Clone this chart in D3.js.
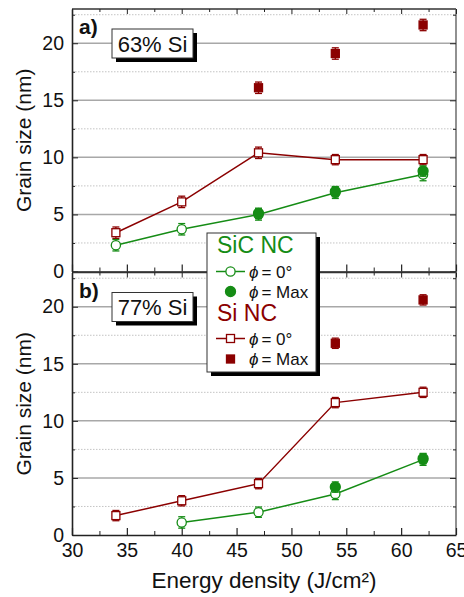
<!DOCTYPE html>
<html>
<head>
<meta charset="utf-8">
<script src="https://cdn.jsdelivr.net/npm/d3@7"></script>
<style>
  body { margin: 0; background: #fff; }
  svg { font-family: "Liberation Sans", Arial, sans-serif; }
  .axis path, .axis line { stroke: #222; }
  .axis text { font-size: 19.5px; fill: #111; font-family: "Liberation Sans", Arial, sans-serif; }
</style>
</head>
<body>
<script>
const width = 464;
const height = 597;

// data
const energy = [34, 40, 47, 54, 62];

const siZeroA = [3.4, 6.1, 10.4, 9.8, 9.8];
const siZeroErrA = [0.5, 0.5, 0.5, 0.45, 0.45];
const siMaxA = [null, null, 16.1, 19.1, 21.6];
const siMaxErrA = [null, null, 0.5, 0.5, 0.5];
const sicZeroA = [2.3, 3.7, 5.0, 6.9, 8.5];
const sicZeroErrA = [0.5, 0.5, 0.5, 0.5, 0.55];
const sicMaxA = [null, null, 5.1, 7.0, 8.8];
const sicMaxErrA = [null, null, 0.45, 0.45, 0.45];

const siZeroB = [1.7, 3.0, 4.5, 11.6, 12.5];
const siZeroErrB = [0.45, 0.45, 0.45, 0.45, 0.45];
const siMaxB = [null, null, null, 16.8, 20.6];
const siMaxErrB = [null, null, null, 0.45, 0.45];
const sicZeroB = [null, 1.1, 2.0, 3.6, 6.6];
const sicZeroErrB = [null, 0.5, 0.45, 0.5, 0.5];
const sicMaxB = [null, null, null, 4.2, 6.7];
const sicMaxErrB = [null, null, null, 0.45, 0.45];

const xMajorTicks = [30, 35, 40, 45, 50, 55, 60, 65];
const yMajorTicks = [0, 5, 10, 15, 20];
const yMinorTicks = [2.5, 7.5, 12.5, 17.5, 22.5];

const green = "#158c15";
const red = "#8b0000";

const margin = { left: 72, right: 8 };

const svg = d3.select("body").append("svg")
    .attr("width", width)
    .attr("height", height);

const xScale = d3.scaleLinear()
    .domain([30, 65])
    .range([margin.left, width - margin.right]);

const panels = [
    { label: "a)", box: "63% Si", top: 9, bottom: 271.5,
      series: [
        { y: siZeroA, err: siZeroErrA, color: red, shape: "square", open: true, line: true },
        { y: sicZeroA, err: sicZeroErrA, color: green, shape: "circle", open: true, line: true },
        { y: sicMaxA, err: sicMaxErrA, color: green, shape: "circle", open: false, line: false },
        { y: siMaxA, err: siMaxErrA, color: red, shape: "square", open: false, line: false }
      ] },
    { label: "b)", box: "77% Si", top: 272.5, bottom: 535,
      series: [
        { y: siZeroB, err: siZeroErrB, color: red, shape: "square", open: true, line: true },
        { y: sicZeroB, err: sicZeroErrB, color: green, shape: "circle", open: true, line: true },
        { y: sicMaxB, err: sicMaxErrB, color: green, shape: "circle", open: false, line: false },
        { y: siMaxB, err: siMaxErrB, color: red, shape: "square", open: false, line: false }
      ] }
];

function drawMarker(g, shape, open, color, cx, cy) {
    if (shape === "circle") {
        g.append("circle")
            .attr("cx", cx).attr("cy", cy).attr("r", open ? 4.6 : 5)
            .attr("fill", open ? "#fff" : color)
            .attr("stroke", color)
            .attr("stroke-width", 1.3);
    } else {
        const s = 8;
        g.append("rect")
            .attr("x", cx - s / 2).attr("y", cy - s / 2)
            .attr("width", s).attr("height", s)
            .attr("fill", open ? "#fff" : color)
            .attr("stroke", color)
            .attr("stroke-width", 1.3);
    }
}

panels.forEach((p, pi) => {
    const yScale = d3.scaleLinear()
        .domain([0, 23])
        .range([p.bottom, p.top]);

    const g = svg.append("g");

    // grid
    g.selectAll(".gmaj").data(yMajorTicks.slice(1)).enter()
        .append("line")
        .attr("x1", margin.left).attr("x2", width - margin.right)
        .attr("y1", d => yScale(d)).attr("y2", d => yScale(d))
        .attr("stroke", "#a8a8a8").attr("stroke-width", 1.5);
    g.selectAll(".gmin").data(yMinorTicks).enter()
        .append("line")
        .attr("x1", margin.left).attr("x2", width - margin.right)
        .attr("y1", d => yScale(d)).attr("y2", d => yScale(d))
        .attr("stroke", "#c4c4c4").attr("stroke-width", 1)
        .attr("stroke-dasharray", "1.5,1.5");

    // frame: top and right
    g.append("line")
        .attr("x1", margin.left).attr("x2", width - margin.right)
        .attr("y1", p.top).attr("y2", p.top)
        .attr("stroke", "#333").attr("stroke-width", 1.3);
    g.append("line")
        .attr("x1", width - margin.right).attr("x2", width - margin.right)
        .attr("y1", p.top).attr("y2", p.bottom)
        .attr("stroke", "#555").attr("stroke-width", 1.3);

    // x axis (ticks inside)
    const xAx = g.append("g")
        .attr("class", "axis")
        .attr("transform", `translate(0,${p.bottom})`)
        .call(d3.axisBottom(xScale).tickValues(xMajorTicks)
            .tickSizeInner(-7).tickSizeOuter(0).tickPadding(8)
            .tickFormat(pi === 1 ? d3.format("d") : () => ""));
    xAx.select(".domain").attr("stroke-width", 1.6);
    xAx.selectAll("line").attr("stroke-width", 1.2);
    g.append("g")
        .attr("class", "axis")
        .attr("transform", `translate(0,${p.bottom})`)
        .call(d3.axisBottom(xScale).tickValues(xMajorTicks.map(d => d + 2.5).filter(d => d < 65))
            .tickSizeInner(-4).tickSizeOuter(0).tickFormat(() => ""))
        .select(".domain").remove();

    // top mirror ticks
    g.append("g")
        .attr("class", "axis")
        .attr("transform", `translate(0,${p.top})`)
        .call(d3.axisTop(xScale).tickValues(xMajorTicks)
            .tickSizeInner(-5).tickSizeOuter(0).tickFormat(() => ""))
        .select(".domain").remove();
    g.append("g")
        .attr("class", "axis")
        .attr("transform", `translate(0,${p.top})`)
        .call(d3.axisTop(xScale).tickValues(xMajorTicks.map(d => d + 2.5).filter(d => d < 65))
            .tickSizeInner(-3).tickSizeOuter(0).tickFormat(() => ""))
        .select(".domain").remove();

    // y axis
    const yAx = g.append("g")
        .attr("class", "axis")
        .attr("transform", `translate(${margin.left},0)`)
        .call(d3.axisLeft(yScale).tickValues(yMajorTicks)
            .tickSizeInner(-6).tickSizeOuter(0).tickPadding(8));
    yAx.select(".domain").attr("stroke-width", 1.6);
    g.append("g")
        .attr("class", "axis")
        .attr("transform", `translate(${margin.left},0)`)
        .call(d3.axisLeft(yScale).tickValues(yMinorTicks)
            .tickSizeInner(-3).tickSizeOuter(0).tickFormat(() => ""))
        .select(".domain").remove();

    // right mirror ticks
    g.append("g")
        .attr("class", "axis")
        .attr("transform", `translate(${width - margin.right},0)`)
        .call(d3.axisRight(yScale).tickValues(yMajorTicks)
            .tickSizeInner(-6).tickSizeOuter(0).tickFormat(() => ""))
        .select(".domain").remove();
    g.append("g")
        .attr("class", "axis")
        .attr("transform", `translate(${width - margin.right},0)`)
        .call(d3.axisRight(yScale).tickValues(yMinorTicks)
            .tickSizeInner(-3).tickSizeOuter(0).tickFormat(() => ""))
        .select(".domain").remove();

    // y title
    g.append("text")
        .attr("transform", `translate(31,${(p.top + p.bottom) / 2}) rotate(-90)`)
        .attr("text-anchor", "middle")
        .style("font-size", "21px")
        .attr("fill", "#111")
        .text("Grain size (nm)");

    // panel label
    g.append("text")
        .attr("x", 79).attr("y", p.top + 25)
        .style("font-size", "21px").style("font-weight", "bold")
        .attr("fill", "#111")
        .text(p.label);

    // composition box
    const bx = 112, by = p.top + 20, bw = 81, bh = 29;
    g.append("rect").attr("x", bx + 4).attr("y", by + 4)
        .attr("width", bw).attr("height", bh).attr("fill", "#000");
    g.append("rect").attr("x", bx).attr("y", by)
        .attr("width", bw).attr("height", bh)
        .attr("fill", "#fff").attr("stroke", "#333").attr("stroke-width", 1);
    g.append("text")
        .attr("x", bx + bw / 2).attr("y", by + bh / 2 + 8)
        .attr("text-anchor", "middle")
        .style("font-size", "22px")
        .attr("fill", "#111")
        .text(p.box);

    // series
    p.series.forEach(s => {
        const pts = energy.map((e, i) => ({ x: e, y: s.y[i], e: s.err[i] }))
            .filter(d => d.y != null);
        if (s.line) {
            g.append("path")
                .datum(pts)
                .attr("fill", "none")
                .attr("stroke", s.color)
                .attr("stroke-width", 1.5)
                .attr("d", d3.line().x(d => xScale(d.x)).y(d => yScale(d.y)));
        }
        pts.forEach(d => {
            const cx = xScale(d.x);
            const y0 = yScale(d.y - d.e), y1 = yScale(d.y + d.e);
            g.append("line").attr("x1", cx).attr("x2", cx).attr("y1", y0).attr("y2", y1)
                .attr("stroke", s.color).attr("stroke-width", 1.3);
            [y0, y1].forEach(yy => {
                g.append("line").attr("x1", cx - 3.5).attr("x2", cx + 3.5)
                    .attr("y1", yy).attr("y2", yy)
                    .attr("stroke", s.color).attr("stroke-width", 1.3);
            });
            drawMarker(g, s.shape, s.open, s.color, cx, yScale(d.y));
        });
    });
});

// x title
svg.append("text")
    .attr("x", 264).attr("y", 588)
    .attr("text-anchor", "middle")
    .style("font-size", "22.5px")
    .attr("fill", "#111")
    .text("Energy density (J/cm²)");

// legend
const legendGroups = [
    { title: "SiC NC", color: green, shape: "circle", titleY: 253,
      rows: [{ open: true, text: "= 0°", y: 271.5 }, { open: false, text: "= Max", y: 291.5 }] },
    { title: "Si NC", color: red, shape: "square", titleY: 321,
      rows: [{ open: true, text: "= 0°", y: 338.5 }, { open: false, text: "= Max", y: 359 }] }
];

const lg = svg.append("g");
const lx = 207, ly = 233, lw = 109, lh = 139;
lg.append("rect").attr("x", lx + 4).attr("y", ly + 4)
    .attr("width", lw).attr("height", lh).attr("fill", "#000");
lg.append("rect").attr("x", lx).attr("y", ly)
    .attr("width", lw).attr("height", lh)
    .attr("fill", "#fff").attr("stroke", "#333").attr("stroke-width", 1);

legendGroups.forEach(grp => {
    lg.append("text")
        .attr("x", 217).attr("y", grp.titleY)
        .style("font-size", "23px")
        .attr("fill", grp.color)
        .text(grp.title);
    grp.rows.forEach(r => {
        if (r.open) {
            lg.append("line").attr("x1", 216).attr("x2", 245)
                .attr("y1", r.y).attr("y2", r.y)
                .attr("stroke", grp.color).attr("stroke-width", 1.5);
        }
        drawMarker(lg, grp.shape, r.open, grp.color, 230.5, r.y);
        const t = lg.append("text")
            .attr("x", 249).attr("y", r.y + 6)
            .style("font-size", "17px")
            .attr("fill", "#111");
        t.append("tspan").style("font-style", "italic").text("ϕ");
        t.append("tspan").attr("dx", 3).text(r.text);
    });
});
</script>
</body>
</html>
